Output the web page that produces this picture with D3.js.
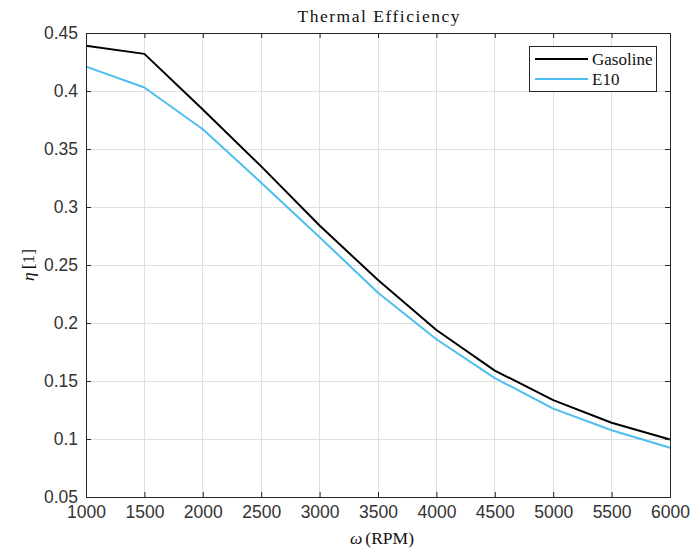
<!DOCTYPE html>
<html>
<head>
<meta charset="utf-8">
<script src="https://cdn.jsdelivr.net/npm/d3@7"></script>
<style>
  html, body { margin: 0; padding: 0; background: #fff; }
  svg { display: block; }
</style>
</head>
<body>
<svg id="chart" width="691" height="552"></svg>
<script>
// Engine speed (RPM) and thermal efficiency for each fuel
const rpm = [1000, 1500, 2000, 2500, 3000, 3500, 4000, 4500, 5000, 5500, 6000];
const gasoline = [0.439, 0.432, 0.384, 0.335, 0.284, 0.237, 0.194, 0.159, 0.1335, 0.114, 0.0995];
const e10 = [0.421, 0.403, 0.367, 0.321, 0.274, 0.226, 0.186, 0.1525, 0.1262, 0.1075, 0.0925];
const xTicks = [1000, 1500, 2000, 2500, 3000, 3500, 4000, 4500, 5000, 5500, 6000];
const yTicks = [0.05, 0.1, 0.15, 0.2, 0.25, 0.3, 0.35, 0.4, 0.45];
const seriesNames = ["Gasoline", "E10"];
const seriesColors = ["#000000", "#4DBEEE"];

const svg = d3.select("#chart");
const m = { left: 86, right: 670, top: 33, bottom: 497 };
const x = d3.scaleLinear().domain([1000, 6000]).range([m.left, m.right]);
const y = d3.scaleLinear().domain([0.05, 0.45]).range([m.bottom, m.top]);

const axisColor = "#262626";
const sans = "'Liberation Sans', Arial, sans-serif";
const serif = "'Liberation Serif', 'DejaVu Serif', serif";

// Grid
const grid = svg.append("g");
grid.selectAll(".gx").data(xTicks).join("line")
  .attr("x1", d => x(d)).attr("x2", d => x(d))
  .attr("y1", m.top).attr("y2", m.bottom)
  .attr("stroke", "#dfdfdf").attr("stroke-width", 1).attr("shape-rendering", "crispEdges");
grid.selectAll(".gy").data(yTicks).join("line")
  .attr("x1", m.left).attr("x2", m.right)
  .attr("y1", d => y(d)).attr("y2", d => y(d))
  .attr("stroke", "#dfdfdf").attr("stroke-width", 1).attr("shape-rendering", "crispEdges");

// Series lines
const line = d3.line().x((d, i) => x(rpm[i])).y(d => y(d));
[gasoline, e10].forEach((vals, k) => {
  svg.append("path").datum(vals)
    .attr("d", line)
    .attr("fill", "none")
    .attr("stroke", seriesColors[k])
    .attr("stroke-width", 2)
    .attr("stroke-linejoin", "round");
});

// Axes with inward ticks
const xAxis = d3.axisBottom(x).tickValues(xTicks).tickSize(-5).tickPadding(9).tickFormat(d3.format("d"));
const yAxis = d3.axisLeft(y).tickValues(yTicks).tickSize(-5).tickPadding(8).tickFormat(d => String(d));
const xTop = d3.axisTop(x).tickValues(xTicks).tickSize(-5).tickFormat("");
const yRight = d3.axisRight(y).tickValues(yTicks).tickSize(-5).tickFormat("");

function style(g) {
  g.select(".domain").attr("stroke", axisColor).attr("stroke-width", 1);
  g.selectAll(".tick line").attr("stroke", axisColor);
  g.selectAll(".tick text").attr("fill", "#333").attr("font-family", sans).attr("font-size", 17.5);
}
svg.append("g").attr("transform", `translate(0,${m.bottom})`).call(xAxis).call(style);
svg.append("g").attr("transform", `translate(${m.left},0)`).call(yAxis).call(style);
svg.append("g").attr("transform", `translate(0,${m.top})`).call(xTop).call(style);
svg.append("g").attr("transform", `translate(${m.right},0)`).call(yRight).call(style);

// Title and axis labels
svg.append("text").attr("x", 378.5).attr("y", 22)
  .attr("text-anchor", "middle").attr("font-family", serif).attr("font-size", 17.5)
  .attr("textLength", 162).attr("lengthAdjust", "spacing")
  .attr("fill", "#111").text("Thermal Efficiency");
svg.append("text").attr("x", 382).attr("y", 544)
  .attr("text-anchor", "middle").attr("font-family", serif).attr("font-size", 17.5)
  .attr("fill", "#111")
  .call(t => {
    t.append("tspan").attr("font-style", "italic").text("ω");
    t.append("tspan").attr("dx", 3).text("(RPM)");
  });
svg.append("text").attr("transform", "translate(34,265) rotate(-90)")
  .attr("text-anchor", "middle").attr("font-family", serif).attr("font-size", 17.5)
  .attr("fill", "#111")
  .call(t => {
    t.append("tspan").attr("font-style", "italic").text("η");
    t.append("tspan").attr("dx", 3).text("[1]");
  });

// Legend
const lg = svg.append("g");
lg.append("rect").attr("x", 529.5).attr("y", 46.5).attr("width", 127).attr("height", 45)
  .attr("fill", "#fff").attr("stroke", axisColor).attr("stroke-width", 1);
seriesNames.forEach((name, k) => {
  const yy = 59 + k * 20;
  lg.append("line").attr("x1", 535).attr("x2", 588).attr("y1", yy).attr("y2", yy)
    .attr("stroke", seriesColors[k]).attr("stroke-width", 2);
  lg.append("text").attr("x", 592).attr("y", yy + 5.5)
    .attr("font-family", serif).attr("font-size", 17).attr("fill", "#111").text(name);
});
</script>
</body>
</html>
